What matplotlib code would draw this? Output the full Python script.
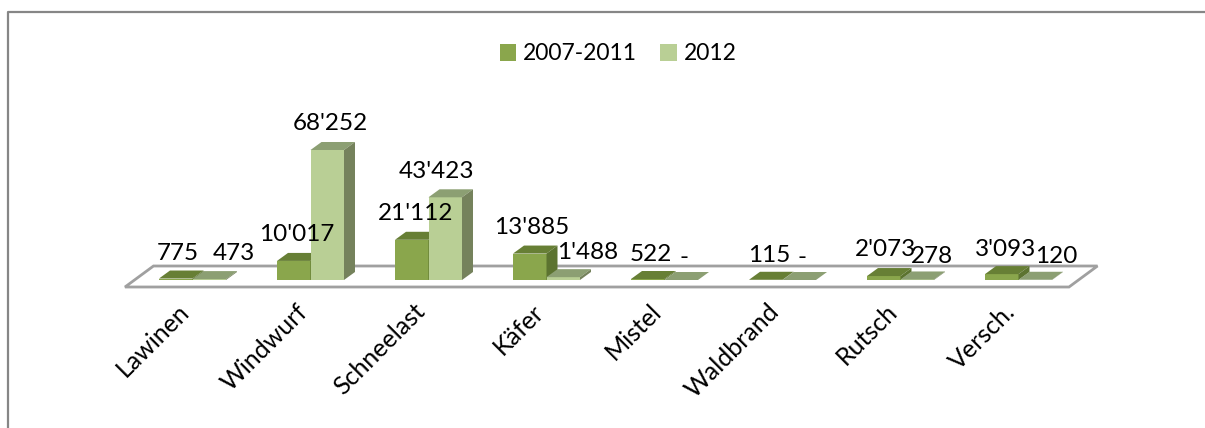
import matplotlib
matplotlib.use('Agg')
import matplotlib.pyplot as plt
from matplotlib.lines import Line2D
from matplotlib.patches import Polygon

categories = ['Lawinen', 'Windwurf', 'Schneelast', 'Käfer', 'Mistel', 'Waldbrand', 'Rutsch', 'Versch.']
series_names = ['2007-2011', '2012']
values_2007 = [775, 10017, 21112, 13885, 522, 115, 2073, 3093]
values_2012 = [473, 68252, 43423, 1488, 0, 0, 278, 120]

W, H = 1205, 428
PX_PER_CAT = 118.0
PX_PER_VAL = 130.0 / 68252
X0_PX, Y0_PX = 192.5, 280.0

# label offsets from the top of each bar, in pixels (the labels overlap in the original too)
offs_2007 = [(2, 25), (3, 26), (4, 26), (2, 26), (3, 25), (3, 24), (2, 27), (4, 25)]
offs_2012 = [(25, 26), (3, 26), (-9, 26), (24, 25), (3, 23), (3, 22), (15, 23), (21, 23)]

plt.rcParams['font.family'] = ['Lato', 'DejaVu Sans']

fig = plt.figure(figsize=(W / 100, H / 100), dpi=100)
ax = fig.add_axes([0, 0, 1, 1])
ax.set_xlim(-X0_PX / PX_PER_CAT, (W - X0_PX) / PX_PER_CAT)
ax.set_ylim((Y0_PX - H) / PX_PER_VAL, Y0_PX / PX_PER_VAL)
ax.axis('off')

dx = 11 / PX_PER_CAT
dy = 8 / PX_PER_VAL
bar_w = 33.5 / PX_PER_CAT

# floor
fx0, fx1 = (125 - X0_PX) / PX_PER_CAT, (1069 - X0_PX) / PX_PER_CAT
fy0, fy1 = -7 / PX_PER_VAL, 14 / PX_PER_VAL
shift = 28.5 / PX_PER_CAT
ax.add_patch(Polygon([(fx0, fy0), (fx1, fy0), (fx1 + shift, fy1), (fx0 + shift, fy1)],
                     closed=True, fc='white', ec='#a0a0a0', lw=2, zorder=1))


def draw_bar(x, v, front, top, side, z):
    ax.bar(x, v, width=bar_w, align='edge', color=front, zorder=z)
    x1 = x + bar_w
    ax.add_patch(Polygon([(x, v), (x1, v), (x1 + dx, v + dy), (x + dx, v + dy)],
                         closed=True, fc=top, ec='none', zorder=z))
    ax.add_patch(Polygon([(x1, 0), (x1 + dx, dy), (x1 + dx, v + dy), (x1, v)],
                         closed=True, fc=side, ec='none', zorder=z))


for i in range(len(categories)):
    draw_bar(i - bar_w, values_2007[i], '#8aa64c', '#677f35', '#5c7330', 2 + i * 2)
    draw_bar(i, values_2012[i], '#b9cf95', '#8c9f73', '#75825c', 3 + i * 2)


def fmt(v):
    return f"{v:,}".replace(',', "'") if v else '-'


for i in range(len(categories)):
    for vals, offs, sign in ((values_2007, offs_2007, -0.5), (values_2012, offs_2012, 0.5)):
        ax.annotate(fmt(vals[i]), (i + sign * bar_w, vals[i]),
                    xytext=(offs[i][0] * 0.72, offs[i][1] * 0.72), textcoords='offset points',
                    ha='center', va='center', fontsize=17.5, color='black', zorder=50)
    ax.annotate(categories[i], (i, 0), xytext=(-5, -20), textcoords='offset points',
                ha='right', va='center', rotation=45, rotation_mode='anchor',
                fontsize=18, color='black', zorder=50)

handles = [Polygon([(0, 0)], fc='#8aa64c'), Polygon([(0, 0)], fc='#b9cf95')]
fig.legend(handles, series_names, loc='center', bbox_to_anchor=(618 / W, 1 - 54 / H), ncol=2,
           frameon=False, fontsize=16.5, handlelength=0.72, handleheight=0.72,
           handletextpad=0.3, columnspacing=1.0)

# chart frame, only top and left are inside the crop
fig.add_artist(Line2D([8 / W, 8 / W, 1], [0, 1 - 12 / H, 1 - 12 / H], color='#868686', lw=1.6))

fig.savefig('out.png', dpi=100)
